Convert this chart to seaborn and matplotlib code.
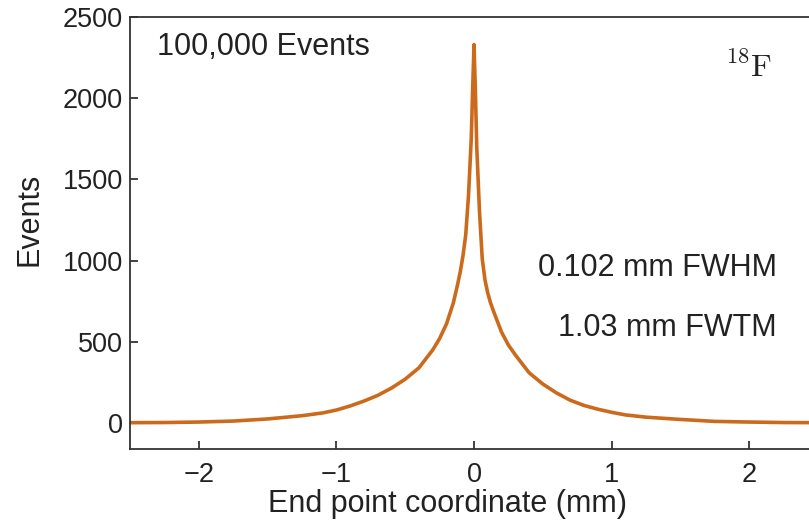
import pandas as pd
import matplotlib
matplotlib.use("Agg")
import matplotlib.pyplot as plt
import seaborn as sns

# End point coordinate (mm) and events per bin
end_point = [-2.5, -2.25, -2.0, -1.75, -1.5, -1.25, -1.1, -1.0, -0.9, -0.8,
             -0.7, -0.6, -0.5, -0.4, -0.3, -0.25, -0.2, -0.15, -0.12, -0.1,
             -0.08, -0.06, -0.04, -0.02, -0.01, 0.0, 0.01, 0.02, 0.04, 0.06,
             0.08, 0.1, 0.12, 0.15, 0.2, 0.25, 0.3, 0.4, 0.5, 0.6,
             0.7, 0.8, 0.9, 1.0, 1.1, 1.25, 1.5, 1.75, 2.0, 2.25, 2.5]
events = [2, 3, 6, 12, 25, 45, 62, 80, 105, 135,
          170, 215, 270, 340, 450, 520, 610, 740, 850, 930,
          1030, 1160, 1400, 1750, 2050, 2330, 2050, 1700, 1300, 1010,
          880, 800, 740, 670, 560, 480, 420, 310, 240, 185,
          140, 108, 85, 66, 50, 36, 22, 10, 6, 3, 2]

xticks = [-2, -1, 0, 1, 2]
yticks = [0, 500, 1000, 1500, 2000, 2500]

sns.set_style("ticks")
plt.rcParams["font.family"] = ["Liberation Sans", "DejaVu Sans"]
plt.rcParams["xtick.direction"] = "in"
plt.rcParams["ytick.direction"] = "in"

df = pd.DataFrame({"x": end_point, "events": events})

fig = plt.figure(figsize=(8.09, 5.22), dpi=100)
ax = fig.add_axes([130 / 809, 1 - 449 / 522, 688 / 809, 432 / 522])
sns.lineplot(data=df, x="x", y="events", ax=ax, color="#cc6a1c", linewidth=2.6)

ax.set_xlim(-2.5, 2.5)
ax.set_ylim(-160, 2500)
ax.set_xticks(xticks)
ax.set_yticks(yticks)
ax.set_xticklabels(["\u22122", "\u22121", "0", "1", "2"])
ax.tick_params(labelsize=19.5, length=6, width=1.2, colors="#222222")
ax.tick_params(axis="x", pad=9)
ax.tick_params(axis="y", pad=5)
for s in ax.spines.values():
    s.set_color("#333333")
    s.set_linewidth(1.3)

ax.set_xlabel("End point coordinate (mm)", fontsize=22, color="#222222")
ax.set_ylabel("Events", fontsize=22, color="#222222")
ax.xaxis.set_label_coords((447 - 130) / 688, -(489 - 449) / 432)
ax.yaxis.set_label_coords(-(130 - 44) / 688, (449 - 219) / 432)

ax.text(157 / 809, 1 - 47 / 522, "100,000 Events", transform=fig.transFigure,
        fontsize=22, ha="left", va="center", color="#222222")
ax.text(772 / 809, 1 - 68 / 522, r"$^{18}\mathrm{F}$", transform=fig.transFigure,
        fontsize=23, ha="right", va="center", color="#222222",
        math_fontfamily="cm")
ax.text(777 / 809, 1 - 268 / 522, "0.102 mm FWHM", transform=fig.transFigure,
        fontsize=22, ha="right", va="center", color="#222222")
ax.text(777 / 809, 1 - 328 / 522, "1.03 mm FWTM", transform=fig.transFigure,
        fontsize=22, ha="right", va="center", color="#222222")

fig.savefig("out.png", dpi=100)
